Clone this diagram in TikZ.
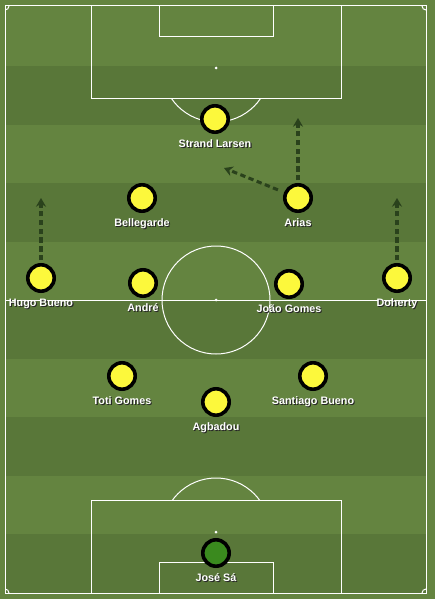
\documentclass[tikz,border=0pt]{standalone}
\usepackage{xcolor}
\usepackage{fontspec}
\setmainfont{Liberation Sans}
\usepackage{tikz}
\usetikzlibrary{
  arrows.meta}

\definecolor{pitchlight}{RGB}{100,132,64}
\definecolor{pitchdark}{RGB}{89,119,57}
\definecolor{shirt}{RGB}{252,248,60}
\definecolor{gkshirt}{RGB}{58,138,30}
\definecolor{rundash}{RGB}{42,66,28}

\newcommand{\shadowed}[1]{\makebox[0pt][l]{\hspace{0.8pt}\raisebox{-0.8pt}{\color{black!85}#1}}#1}

\tikzset{
  pline/.style={white, line width=0.75pt},
  player/.style={circle, draw=black, line width=2.7pt, fill=shirt,
    minimum size=19.8pt, inner sep=0pt},
  keeper/.style={player, fill=gkshirt},
  plabel/.style={text=white, font=\bfseries\fontsize{8.1}{9.7}\selectfont,
    inner sep=0pt, label distance=4pt},
  run/.style={rundash, line width=2.3pt, dash pattern=on 4pt off 2.6pt,
    -{Stealth[length=6.5pt,width=7.5pt]}, shorten <=2pt}
}

\begin{document}
\begin{tikzpicture}[x=0.75pt,y=-0.75pt]
  \useasboundingbox (0,0) rectangle (435,599);
  \fill[pitchlight] (0,0) rectangle (435,599);
  \foreach \y in {66,183,300,417,534}
    \fill[pitchdark] (5,\y) rectangle (426,\y+58.6);

  % lines
  \draw[pline] (5,6) rectangle (426,593);
  \draw[pline] (5,300) -- (426,300);
  \draw[pline] (216,300) circle (54);
  \fill[white] (216,300) circle (1.5);
  \draw[pline] (91,6) rectangle (341,99);
  \draw[pline] (159,6) rectangle (273,37);
  \fill[white] (216,68) circle (1.5);
  \draw[pline] (91,500) rectangle (341,593);
  \draw[pline] (159,562) rectangle (273,593);
  \fill[white] (216,532) circle (1.5);
  \begin{scope}
    \clip (91,99) rectangle (341,200);
    \draw[pline] (216,68) circle (54);
  \end{scope}
  \begin{scope}
    \clip (91,400) rectangle (341,500);
    \draw[pline] (216,532) circle (54);
  \end{scope}
  \foreach \cx/\cy in {5/6,426/6,5/593,426/593}{
    \begin{scope}
      \clip (5,6) rectangle (426,593);
      \draw[pline] (\cx,\cy) circle (4);
    \end{scope}}

  % players
  \node[player, label={[plabel]below:\shadowed{Strand Larsen}}] (larsen) at (215,119) {};
  \node[player, label={[plabel]below:\shadowed{Bellegarde}}] (bellegarde) at (142,198) {};
  \node[player, label={[plabel]below:\shadowed{Arias}}] (arias) at (298,198) {};
  \node[player, label={[plabel]below:\shadowed{Hugo Bueno}}] (hbueno) at (41,278) {};
  \node[player, label={[plabel]below:\shadowed{André}}] (andre) at (143,283) {};
  \node[player, label={[plabel]below:\shadowed{João Gomes}}] (jgomes) at (289,284) {};
  \node[player, label={[plabel]below:\shadowed{Doherty}}] (doherty) at (397,278) {};
  \node[player, label={[plabel]below:\shadowed{Toti Gomes}}] (tgomes) at (122,376) {};
  \node[player, label={[plabel]below:\shadowed{Santiago Bueno}}] (sbueno) at (313,376) {};
  \node[player, label={[plabel]below:\shadowed{Agbadou}}] (agbadou) at (216,402) {};
  \node[keeper, label={[plabel]below:\shadowed{José Sá}}] (sa) at (216,553) {};

  % runs
  \coordinate (ariasup) at (298,118);
  \coordinate (ariasin) at (224,168);
  \coordinate (hbuenoup) at (41,198);
  \coordinate (dohertyup) at (397,198);
  \draw[run] (arias) -- (ariasup);
  \draw[run, shorten <=5pt] (arias) -- (ariasin);
  \draw[run] (hbueno) -- (hbuenoup);
  \draw[run] (doherty) -- (dohertyup);
\end{tikzpicture}
\end{document}
